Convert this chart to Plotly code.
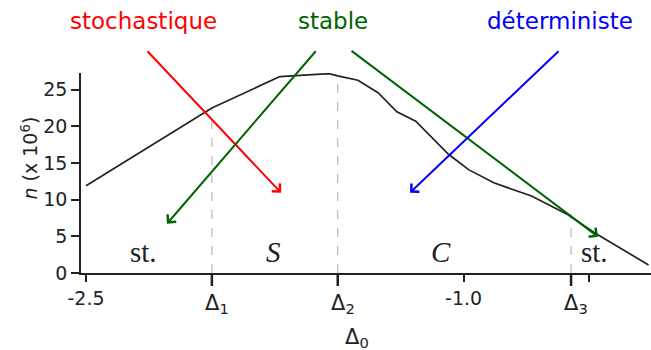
import plotly.graph_objects as go

# ---- data ----
delta0 = [-2.5, -2.0, -1.73, -1.535, -1.50, -1.42, -1.34, -1.265, -1.19, -1.12,
          -1.06, -0.98, -0.88, -0.73, -0.585, -0.48, -0.265]
n_vals = [11.9, 22.5, 26.8, 27.2, 26.9, 26.3, 24.6, 22.0, 20.7, 18.2,
          16.2, 14.1, 12.3, 10.5, 7.95, 5.5, 1.1]

num_tick_vals = [-2.5, -1.0, -0.5]
num_tick_text = ["-2.5", "-1.0", ""]
y_tick_vals = [0, 5, 10, 15, 20, 25]

delta_pos = [-2.0, -1.5, -0.573]
delta_top = [22.5, 26.9, 8.1]
delta_text = ["Δ<sub>1</sub>", "Δ<sub>2</sub>", "Δ<sub>3</sub>"]

region_text = ["st.", "<i>S</i>", "<i>C</i>", "st."]
region_x = [-2.272, -1.755, -1.09, -0.48]
region_y = [0.45, 0.45, 0.45, 0.45]

top_labels = ["stochastique", "stable", "déterministe"]
top_colors = ["#ff0000", "#006400", "#0000ff"]
top_x = [-2.272, -1.517, -0.616]

# arrows: start and tip
arrow_start_x = [-2.2616, -1.5822, -1.4511, -0.6168]
arrow_start_y = [30.46, 30.46, 30.46, 30.46]
arrow_tip_x = [-1.7253, -2.1782, -0.4658, -1.2128]
arrow_tip_y = [10.95, 6.73, 4.95, 10.95]
arrow_colors = ["#ff0000", "#006400", "#006400", "#0000ff"]

PLOT_H = 200.0

fig = go.Figure()

for xp, yt in zip(delta_pos, delta_top):
    fig.add_trace(go.Scatter(x=[xp, xp], y=[0, yt], mode="lines",
                             line=dict(color="#aaaaaa", width=1, dash="dash"),
                             hoverinfo="skip", showlegend=False))

fig.add_trace(go.Scatter(x=delta0, y=n_vals, mode="lines",
                         line=dict(color="#222222", width=1.7),
                         showlegend=False))

annotations = []
for t, x, y in zip(region_text, region_x, region_y):
    annotations.append(dict(x=x, y=y, xref="x", yref="y", text=t, showarrow=False,
                            font=dict(family="Liberation Serif", size=29, color="#222222"),
                            xanchor="center", yanchor="bottom"))

for t, c, x in zip(top_labels, top_colors, top_x):
    annotations.append(dict(x=x, y=(273 - 21) / PLOT_H, xref="x", yref="paper", text=t,
                            showarrow=False,
                            font=dict(family="DejaVu Sans", size=23, color=c),
                            xanchor="center", yanchor="middle"))

for sx, sy, tx, ty, c in zip(arrow_start_x, arrow_start_y, arrow_tip_x, arrow_tip_y, arrow_colors):
    annotations.append(dict(x=tx, y=ty, ax=sx, ay=sy, xref="x", yref="y", axref="x", ayref="y",
                            text="", showarrow=True, arrowhead=4, arrowsize=1.1,
                            arrowwidth=2, arrowcolor=c))

for xp, t in zip(delta_pos, delta_text):
    annotations.append(dict(x=xp, y=-16 / PLOT_H, xref="x", yref="paper", text=t,
                            showarrow=False, xshift=5,
                            font=dict(family="DejaVu Sans", size=21, color="#222222"),
                            xanchor="center", yanchor="top"))

annotations.append(dict(x=(357 - 81) / 570, y=-50 / PLOT_H, xref="paper", yref="paper",
                        text="Δ<sub>0</sub>", showarrow=False,
                        font=dict(family="DejaVu Sans", size=21, color="#222222"),
                        xanchor="center", yanchor="top"))
annotations.append(dict(x=(29 - 81) / 570, y=(273 - 158.5) / PLOT_H, xref="paper", yref="paper",
                        text="<i>n</i> (x 10<sup>6</sup>)", showarrow=False, textangle=-90,
                        font=dict(family="DejaVu Sans", size=19, color="#222222"),
                        xanchor="center", yanchor="middle"))

shapes = []
for xp in delta_pos:
    shapes.append(dict(type="line", xref="x", yref="paper", x0=xp, x1=xp, y0=0, y1=-13 / PLOT_H,
                       line=dict(color="#222222", width=2.5)))

fig.update_layout(
    width=651, height=350,
    margin=dict(l=81, r=0, t=73, b=77, autoexpand=False),
    paper_bgcolor="white", plot_bgcolor="white",
    showlegend=False,
    annotations=annotations,
    shapes=shapes,
    xaxis=dict(range=[-2.52, -0.2554], tickmode="array", tickvals=num_tick_vals,
               ticktext=num_tick_text, ticks="outside", ticklen=7, tickwidth=1.5,
               tickcolor="#222222", showline=True, linecolor="#222222", linewidth=1.5,
               showgrid=False, zeroline=False,
               tickfont=dict(family="DejaVu Sans", size=19, color="#222222")),
    yaxis=dict(range=[0, PLOT_H / 7.33], tickmode="array", tickvals=y_tick_vals,
               ticks="outside", ticklen=8, tickwidth=1.5, tickcolor="#222222",
               showline=True, linecolor="#222222", linewidth=1.5,
               showgrid=False, zeroline=False,
               tickfont=dict(family="DejaVu Sans", size=19, color="#222222")),
)

fig.write_html("out.html", config={"displayModeBar": False},
               post_script="document.body.style.margin='0';")
